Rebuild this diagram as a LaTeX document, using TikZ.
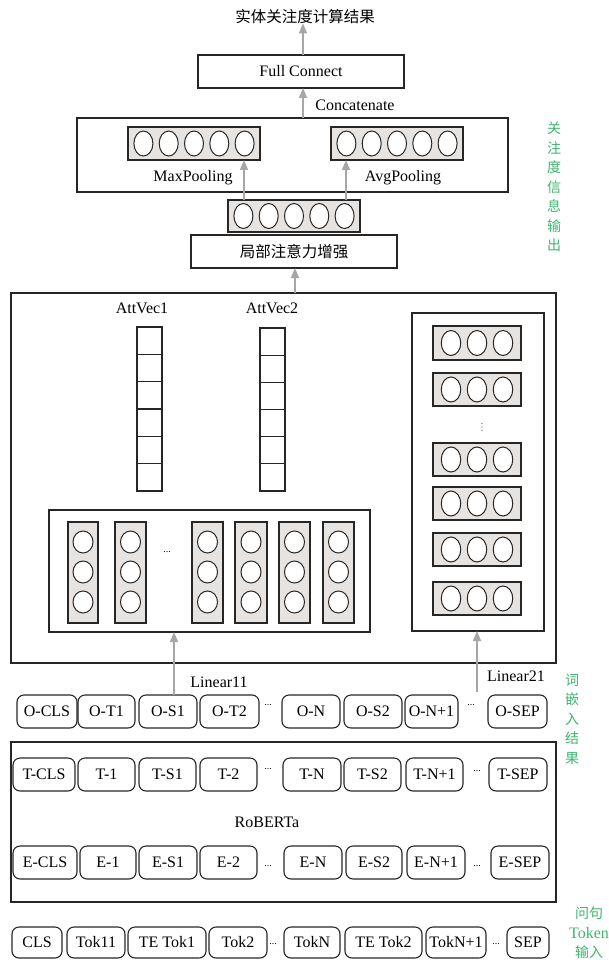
\documentclass[tikz,border=0pt]{standalone}
\usepackage{fontspec}
\setmainfont{Liberation Serif}
\newfontfamily\cjk{Noto Sans CJK SC}
\usetikzlibrary{arrows.meta,shapes.geometric}
\definecolor{edge}{HTML}{262626}
\definecolor{vecfill}{HTML}{E7E3E1}
\definecolor{arrgray}{HTML}{A6A6A6}
\definecolor{lblgreen}{HTML}{3DB56E}
\newcommand\mkbox[7][]{%
  \pgfmathsetmacro\mkw{(#5)-(#3)}\pgfmathsetmacro\mkh{(#6)-(#4)}%
  \pgfmathsetmacro\mkx{((#3)+(#5))/2}\pgfmathsetmacro\mky{((#4)+(#6))/2}%
  \node[box,#1,minimum width=\mkw pt,minimum height=\mkh pt] (#2) at (\mkx,\mky) {#7};}
\begin{document}
\begin{tikzpicture}[x=1pt,y=-1pt,
  box/.style={draw=edge, line width=1.1pt, inner sep=0pt, outer sep=0pt, font=\fontsize{16}{16}\selectfont},
  tok/.style={rounded corners=7pt},
  bigbox/.style={line width=1.4pt},
  vecbox/.style={fill=vecfill},
  circ/.style={draw=edge, line width=1pt, ellipse, fill=white, inner sep=0pt, outer sep=0pt},
  arr/.style={draw=arrgray, line width=1.6pt, -{Triangle[width=8pt,length=10pt]}},
  lbl/.style={font=\fontsize{16}{16}\selectfont, inner sep=0pt},
  cn/.style={font=\cjk\fontsize{15.5}{15.5}\selectfont, inner sep=0pt},
  grn/.style={text=lblgreen, align=center, inner sep=0pt, font=\cjk\fontsize{14}{19.5}\selectfont},
  dotz/.style={font=\fontsize{10}{10}\selectfont, inner sep=0pt},
]
\useasboundingbox (0,0) rectangle (609,960);

% ---------- top part ----------
\node[cn] (title) at (305,17) {实体关注度计算结果};
\mkbox{fc}{198}{55}{404}{88}{Full Connect}
\node[lbl] (concat) at (355,105) {Concatenate};
\mkbox{att}{77}{118}{508}{192}{}
\mkbox[vecbox]{lv}{128}{127}{260}{160}{}
\mkbox[vecbox]{rv}{331}{127}{463}{160}{}
\foreach \i in {0,...,4}{
  \node[circ, minimum width=19pt, minimum height=25pt] (lvc\i) at ({194+25.3*(\i-2)},143.5) {};
  \node[circ, minimum width=19pt, minimum height=25pt] (rvc\i) at ({397+25.3*(\i-2)},143.5) {};
}
\node[lbl] (maxp) at (193,178) {MaxPooling};
\node[lbl] (avgp) at (403,178) {AvgPooling};
\mkbox[vecbox]{mv}{228}{200}{360}{232}{}
\foreach \i in {0,...,4}{
  \node[circ, minimum width=19pt, minimum height=25pt] (mvc\i) at ({294+25.3*(\i-2)},216) {};
}
\node[box, minimum width=206pt, minimum height=33pt, font=\cjk\fontsize{15.5}{15.5}\selectfont] (enh) at (294,251.5) {局部注意力增强};

% ---------- middle big box ----------
\mkbox[bigbox]{big}{11}{293}{556}{663}{}
\node[lbl] (av1) at (142,308) {AttVec1};
\node[lbl] (av2) at (272,308) {AttVec2};
\foreach \i in {0,...,5}{
  \mkbox{avA\i}{137}{327+27.33*\i}{162}{327+27.33*(\i+1)}{}
  \mkbox{avB\i}{260}{328+27.17*\i}{285}{328+27.17*(\i+1)}{}
}
% right panel
\mkbox{rin}{412}{313}{544}{631}{}
\foreach \r/\ya/\yb in {1/326/360,2/373/406,3/443/476,4/487/520,5/533/566,6/582/615}{
  \mkbox[vecbox]{row\r}{433}{\ya}{521}{\yb}{}
  \foreach \j in {-1,0,1}{
    \node[circ, minimum width=19.5pt, minimum height=25pt] at ({477+26*\j},{(\ya+\yb)/2}) {};
  }
}
\foreach \d in {-3.5,0,3.5}{
  \fill[edge!80] (482,427+\d) circle (0.7pt);
}
% left panel
\mkbox{lin}{49}{510}{370}{632}{}
\foreach \c/\xa/\xb in {1/68/98,2/115/146,3/192/223,4/235/267,5/279/310,6/323/354}{
  \mkbox[vecbox]{col\c}{\xa}{522}{\xb}{623}{}
  \foreach \k in {542,572,602}{
    \node[circ, minimum width=20pt, minimum height=22pt] at ({(\xa+\xb)/2},\k) {};
  }
}
\node[dotz] (cd) at (167,552) {...};

% ---------- O row ----------
\mkbox[tok]{o1}{17}{695}{77}{728}{O-CLS}
\mkbox[tok]{o2}{78}{695}{135}{728}{O-T1}
\mkbox[tok]{o3}{139}{695}{197}{728}{O-S1}
\mkbox[tok]{o4}{200}{695}{259}{728}{O-T2}
\mkbox[tok]{o5}{282}{695}{340}{728}{O-N}
\mkbox[tok]{o6}{344}{695}{402}{728}{O-S2}
\mkbox[tok]{o7}{405}{695}{458}{728}{O-N+1}
\mkbox[tok]{o8}{488}{695}{547}{728}{O-SEP}
\node[dotz] (od1) at (268,705) {...};
\node[dotz] (od2) at (471,705) {...};
\node[lbl] (lin11) at (219,682) {Linear11};
\node[lbl] (lin21) at (516,676) {Linear21};

% ---------- RoBERTa box ----------
\mkbox[bigbox]{rob}{11}{742}{556}{902}{}
\mkbox[tok]{t1}{13}{758}{75}{791}{T-CLS}
\mkbox[tok]{t2}{78}{758}{135}{791}{T-1}
\mkbox[tok]{t3}{139}{758}{196}{791}{T-S1}
\mkbox[tok]{t4}{200}{758}{257}{791}{T-2}
\mkbox[tok]{t5}{283}{758}{341}{791}{T-N}
\mkbox[tok]{t6}{344}{758}{401}{791}{T-S2}
\mkbox[tok]{t7}{406}{758}{463}{791}{T-N+1}
\mkbox[tok]{t8}{489}{758}{547}{791}{T-SEP}
\node[dotz] (td1) at (268,769) {...};
\node[dotz] (td2) at (477,771) {...};
\node[lbl] (roberta) at (267,822) {RoBERTa};
\mkbox[tok]{e1}{13}{846}{77}{879}{E-CLS}
\mkbox[tok]{e2}{80}{846}{136}{879}{E-1}
\mkbox[tok]{e3}{139}{846}{197}{879}{E-S1}
\mkbox[tok]{e4}{200}{846}{257}{879}{E-2}
\mkbox[tok]{e5}{284}{846}{342}{879}{E-N}
\mkbox[tok]{e6}{346}{846}{402}{879}{E-S2}
\mkbox[tok]{e7}{407}{846}{465}{879}{E-N+1}
\mkbox[tok]{e8}{491}{846}{549}{879}{E-SEP}
\node[dotz] (ed1) at (268,866) {...};
\node[dotz] (ed2) at (477,866) {...};

% ---------- Token row ----------
\mkbox[tok]{k1}{12}{927}{62}{958}{CLS}
\mkbox[tok]{k2}{67}{927}{125}{958}{Tok11}
\mkbox[tok]{k3}{128}{927}{206}{958}{TE Tok1}
\mkbox[tok]{k4}{209}{927}{267}{958}{Tok2}
\mkbox[tok]{k5}{284}{927}{340}{958}{TokN}
\mkbox[tok]{k6}{345}{927}{422}{958}{TE Tok2}
\mkbox[tok]{k7}{426}{927}{486}{958}{TokN+1}
\mkbox[tok]{k8}{507}{927}{549}{958}{SEP}
\node[dotz] (kd1) at (273,944) {...};
\node[dotz] (kd2) at (496,944) {...};

% ---------- green side labels ----------
\node[grn] (g1) at (554,187) {关\\注\\度\\信\\息\\输\\出};
\node[grn] (g2) at (572,719) {词\\嵌\\入\\结\\果};
\node[grn] (g3) at (589,933) {问句\\{\rmfamily\fontsize{16}{19.5}\selectfont Token}\\输入};

% ---------- arrows ----------
\coordinate (xa) at (303,0);
\coordinate (xl) at (244,0);
\coordinate (xr) at (346,0);
\coordinate (xe) at (295,0);
\coordinate (xo) at (174,0);
\coordinate (ar) at (477,692);
\draw[arr] (fc.north -| xa) -- ([yshift=1pt]title.south -| xa);
\draw[arr] (att.north -| xa) -- (fc.south -| xa);
\draw[arr] (mv.north -| xl) -- (lv.south -| xl);
\draw[arr] (mv.north -| xr) -- (rv.south -| xr);
\draw[arr] (big.north -| xe) -- (enh.south -| xe);
\draw[arr] (o3.north -| xo) -- (lin.south -| xo);
\draw[arr] (ar) -- (rin.south -| ar);
\end{tikzpicture}
\end{document}
